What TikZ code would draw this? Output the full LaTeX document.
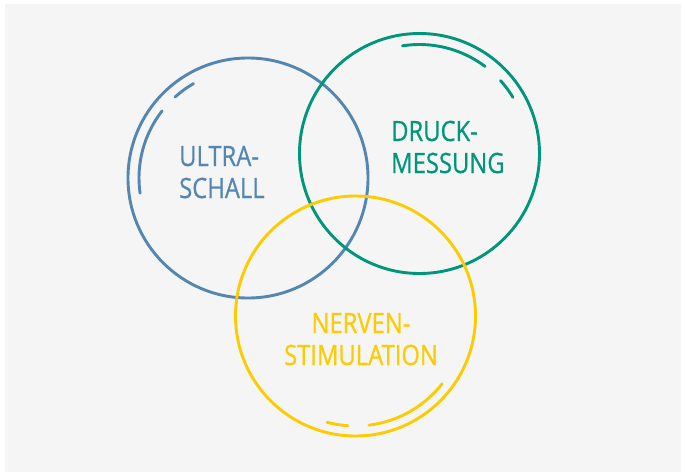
\documentclass[tikz,border=0pt]{standalone}
\usepackage{fontspec}
\setsansfont{Open Sans}[FakeStretch=0.85, FakeBold=0.6]
\definecolor{SchallBlue}{RGB}{84, 134, 178}
\definecolor{DruckGreen}{RGB}{0, 150, 122}
\definecolor{NervYellow}{RGB}{253, 203, 0}
\definecolor{PaperGray}{RGB}{245, 245, 245}
\usetikzlibrary{positioning}

\begin{document}
\begin{tikzpicture}[x=1pt, y=1pt,
  ring/.style={draw, line width=2.9pt, circle, minimum size=240pt, inner sep=0pt},
  gleam/.style={line width=2.9pt, line cap=round},
  label/.style={inner sep=0pt, font=\sffamily\fontsize{28}{32}\selectfont}]
\useasboundingbox (0,0) rectangle (685,475);
\fill[PaperGray] (5,3) rectangle (681,471);
\node (us) [ring, SchallBlue] at (248,297) {};
\node (dm) [ring, DruckGreen] at (419.5,321.5) {};
\node (ns) [ring, NervYellow] at (355.5,159) {};
% inner highlights
\draw[gleam, SchallBlue] ([shift={(120:109)}]us.center) arc (120:132:109);
\draw[gleam, SchallBlue] ([shift={(142:109)}]us.center) arc (142:188:109);
\draw[gleam, DruckGreen] ([shift={(53:109)}]dm.center) arc (53:99:109);
\draw[gleam, DruckGreen] ([shift={(31:109)}]dm.center) arc (31:42:109);
\draw[gleam, NervYellow] ([shift={(-83:110)}]ns.center) arc (-83:-38:110);
\draw[gleam, NervYellow] ([shift={(-105:110)}]ns.center) arc (-105:-94:110);
% labels
\node (ultra) [label, SchallBlue, anchor=base west] at (179,309) {ULTRA-};
\node (schall) [label, SchallBlue, anchor=base west] at (179,277) {SCHALL};
\node (druck) [label, DruckGreen, anchor=base west] at (391,334) {DRUCK-};
\node (messung) [label, DruckGreen, anchor=base west] at (391,302) {MESSUNG};
\node (nerven) [label, NervYellow, anchor=base] at (361,142) {NERVEN-};
\node (stim) [label, NervYellow, anchor=base] at (361,110) {STIMULATION};
\end{tikzpicture}
\end{document}
